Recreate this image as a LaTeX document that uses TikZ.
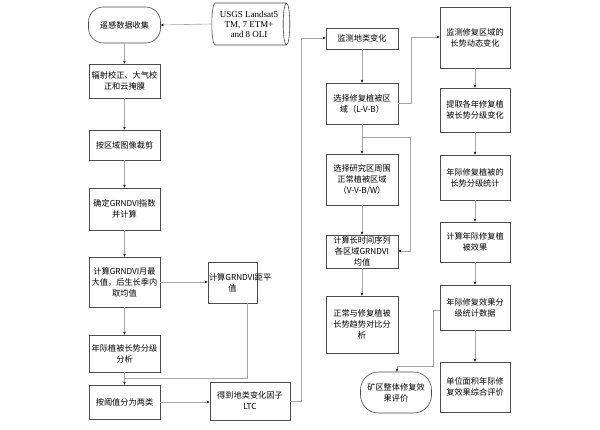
\documentclass[tikz,border=0pt]{standalone}
\usepackage{fontspec}
\setmainfont{Liberation Serif}
\newfontfamily\cjk{Noto Sans CJK SC}
\usetikzlibrary{shapes.geometric,arrows.meta}
\begin{document}
\begin{tikzpicture}[x=1pt,y=-1pt,
 box/.style={draw=black!70,line width=0.6pt,align=center,font=\cjk\fontsize{8.2}{11}\selectfont,inner sep=0pt},
 ln/.style={draw=black!35,line width=0.6pt},
 ar/.style={ln,-{Stealth[length=3pt,width=2.5pt,black]}}]
\useasboundingbox[fill=white] (0,0) rectangle (600,429);
\newcommand\bx[6]{\node[box,minimum width=#3-#2,minimum height=#5-#4,text width=#3-#2-2] (#1) at ({(#2+#3)/2},{(#4+#5)/2}) {#6};}
% left column
\node[box,rounded corners=15pt,minimum width=72,minimum height=36] (a1) at (124.5,25) {遥感数据收集};
\node[box,cylinder,shape border rotate=0,aspect=0.25,minimum width=42,minimum height=78,font=\fontsize{9}{10}\selectfont] (src) at (249,24) {USGS Landsat5\\TM, 7 ETM+\\and 8 OLI};
\bx{a2}{89}{160}{64}{98}{辐射校正、大气校\\正和云掩膜}
\bx{a3}{89}{160}{130}{160}{按区域图像裁剪}
\bx{a4}{89}{160}{188}{230}{确定GRNDVI指数\\并计算}
\bx{a5}{89}{160}{257}{307}{计算GRNDVI月最\\大值，后生长季内\\取均值}
\bx{b5}{208}{257}{262}{303}{计算GRNDVI距平\\值}
\bx{a6}{89}{160}{335}{372}{年际植被长势分级\\分析}
\bx{a7}{89}{160}{385}{419}{按阈值分为两类}
\bx{b7}{210}{290}{382}{420}{得到地类变化因子\\LTC}
% middle column
\bx{c1}{326}{398}{28}{49}{监测地类变化}
\bx{c2}{326}{398}{83}{124}{选择修复植被区\\域（L-V-B）}
\bx{c3}{326}{398}{154}{205}{选择研究区周围\\正常植被区域\\（V-V-B/W）}
\bx{c4}{326}{398}{235}{268}{计算长时间序列\\各区域GRNDVI\\均值}
\bx{c5}{326}{398}{296}{353}{正常与修复植被\\长势趋势对比分\\析}
\node[box,rounded corners=18pt,minimum width=71,minimum height=41,text width=66] (c6) at (396,392.5) {矿区整体修复效\\果评价};
% right column
\bx{d1}{440}{510}{7}{68}{监测修复区域的\\长势动态变化}
\bx{d2}{440}{510}{88}{132}{提取各年修复植\\被长势分级变化}
\bx{d3}{440}{510}{155}{200}{年际修复植被的\\长势分级统计}
\bx{d4}{440}{510}{222}{262}{计算年际修复植\\被效果}
\bx{d5}{440}{510}{285}{330}{年际修复效果分\\级统计数据}
\bx{d6}{440}{510}{362}{412}{单位面积年际修\\复效果综合评价}
% connectors
\draw[ar] (src.west) -- (a1.east);
\draw[ar] (a1) -- (a2);
\draw[ar] (a2) -- (a3);
\draw[ar] (a3) -- (a4);
\draw[ar] (a4) -- (a5);
\draw[ar] (a5) -- (a6);
\draw[ar] (a5.east) -- (b5.west|-a5.east);
\draw[ar] (a6) -- (a7);
\draw[ln] (b5.south-|247,0) |- (124.5,378);
\draw[ar] (a7.east) -- (b7.west|-a7.east);
\draw[ar] (b7.east) -| (301,38) -- (c1.west|-0,38);
\draw[ar] (c1) -- (c2);
\draw[ar] (c2) -- (c3);
\draw[ar] (c3) -- (c4);
\draw[ar] (c4) -- (c5);
\draw[ar] (c2.south) -- (362,137) -| (410,251) -- (c4.east|-0,251);
\draw[ar] (c2.east) -| (411,37) -- (d1.west|-0,37);
\draw[ar] (d1) -- (d2);
\draw[ar] (d2) -- (d3);
\draw[ar] (d3) -- (d4);
\draw[ar] (d4) -- (d5);
\draw[ar] (d5) -- (d6);
\draw[ar] (d5.west|-0,310) -- (433,310) |- (397,366) -- (c6.north-|397,0);
\end{tikzpicture}
\end{document}
